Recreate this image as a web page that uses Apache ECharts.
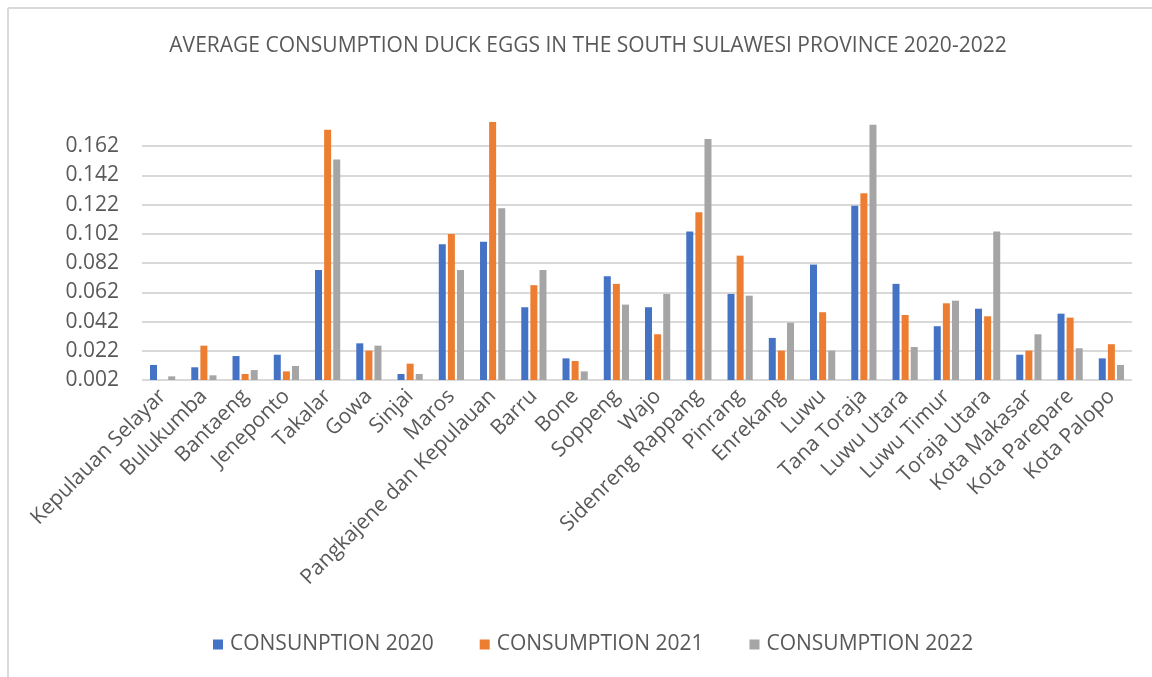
<!DOCTYPE html>
<html>
<head>
<meta charset="utf-8">
<script src="https://cdn.jsdelivr.net/npm/echarts@6/dist/echarts.min.js"></script>
<style>
  html, body { margin: 0; padding: 0; background: #fff; }
  #chart { width: 1152px; height: 677px; }
</style>
</head>
<body>
<div id="chart"></div>
<script>
// Regencies and cities of South Sulawesi
const regions = [
  'Kepulauan Selayar', 'Bulukumba', 'Bantaeng', 'Jeneponto', 'Takalar', 'Gowa',
  'Sinjai', 'Maros', 'Pangkajene dan Kepulauan', 'Barru', 'Bone', 'Soppeng',
  'Wajo', 'Sidenreng Rappang', 'Pinrang', 'Enrekang', 'Luwu', 'Tana Toraja',
  'Luwu Utara', 'Luwu Timur', 'Toraja Utara', 'Kota Makasar', 'Kota Parepare', 'Kota Palopo'
];

// Average duck egg consumption per year
const consumption2020 = [
  0.0123, 0.0107, 0.0184, 0.0193, 0.0773, 0.0271,
  0.0061, 0.0949, 0.0967, 0.0518, 0.0168, 0.0730,
  0.0518, 0.1036, 0.0609, 0.0308, 0.0810, 0.1212,
  0.0678, 0.0388, 0.0508, 0.0193, 0.0474, 0.0168
];
const consumption2021 = [
  null, 0.0255, 0.0061, 0.0079, 0.1732, 0.0221,
  0.0132, 0.1020, 0.1785, 0.0669, 0.0150, 0.0678,
  0.0333, 0.1168, 0.0871, 0.0221, 0.0484, 0.1298,
  0.0465, 0.0545, 0.0456, 0.0221, 0.0447, 0.0265
];
const consumption2022 = [
  0.0045, 0.0052, 0.0088, 0.0116, 0.1529, 0.0255,
  0.0061, 0.0773, 0.1196, 0.0773, 0.0079, 0.0536,
  0.0609, 0.1669, 0.0597, 0.0412, 0.0221, 0.1767,
  0.0246, 0.0563, 0.1036, 0.0333, 0.0237, 0.0123
];

const seriesNames = ['CONSUNPTION 2020', 'CONSUMPTION 2021', 'CONSUMPTION 2022'];
const seriesColors = ['#4472C4', '#ED7D31', '#A5A5A5'];

const FONT = '"Open Sans", "Noto Sans", sans-serif';
const TEXT = '#595959';

const chart = echarts.init(document.getElementById('chart'));

function barSeries(name, data, color) {
  return {
    name: name,
    type: 'bar',
    data: data,
    barWidth: 7,
    barGap: '30%',
    itemStyle: { color: color }
  };
}

// gridlines at 0.002 ... 0.162; the axis top (0.182) has no line
const gridColors = [];
for (let i = 0; i < 9; i++) gridColors.push('#d9d9d9');
gridColors.push('rgba(0,0,0,0)');

chart.setOption({
  backgroundColor: '#ffffff',
  animation: false,
  title: {
    text: 'AVERAGE CONSUMPTION DUCK EGGS IN THE SOUTH SULAWESI PROVINCE 2020-2022',
    left: 583,
    textAlign: 'center',
    top: 31,
    textStyle: { fontFamily: FONT, fontSize: 21, fontWeight: 'normal', color: TEXT }
  },
  legend: {
    data: seriesNames,
    top: 629,
    left: 208,
    itemWidth: 10,
    itemHeight: 10,
    itemGap: 46,
    icon: 'rect',
    textStyle: { fontFamily: FONT, fontSize: 21, color: TEXT, padding: [0, 0, 0, 2] }
  },
  grid: { left: 142, right: 20, top: 117, bottom: 297 },
  xAxis: {
    type: 'category',
    data: regions,
    axisLine: { show: false },
    axisTick: { show: false },
    axisLabel: {
      interval: 0,
      rotate: 45,
      margin: 13,
      fontFamily: FONT,
      fontSize: 21,
      color: TEXT
    }
  },
  yAxis: {
    type: 'value',
    min: 0.002,
    max: 0.182,
    interval: 0.02,
    axisLine: { show: false },
    axisTick: { show: false },
    splitLine: { lineStyle: { color: gridColors, width: 2 } },
    axisLabel: {
      margin: 23,
      fontFamily: FONT,
      fontSize: 21,
      color: TEXT,
      showMaxLabel: false,
      formatter: function (v) { return v > 0.17 ? '' : v.toFixed(3); }
    }
  },
  series: [
    barSeries(seriesNames[0], consumption2020, seriesColors[0]),
    barSeries(seriesNames[1], consumption2021, seriesColors[1]),
    barSeries(seriesNames[2], consumption2022, seriesColors[2])
  ],
  graphic: [
    { type: 'line', shape: { x1: 8, y1: 8, x2: 1152, y2: 8 }, style: { stroke: '#d9d9d9', lineWidth: 2 }, silent: true },
    { type: 'line', shape: { x1: 8, y1: 8, x2: 8, y2: 677 }, style: { stroke: '#d9d9d9', lineWidth: 2 }, silent: true }
  ]
});
</script>
</body>
</html>
